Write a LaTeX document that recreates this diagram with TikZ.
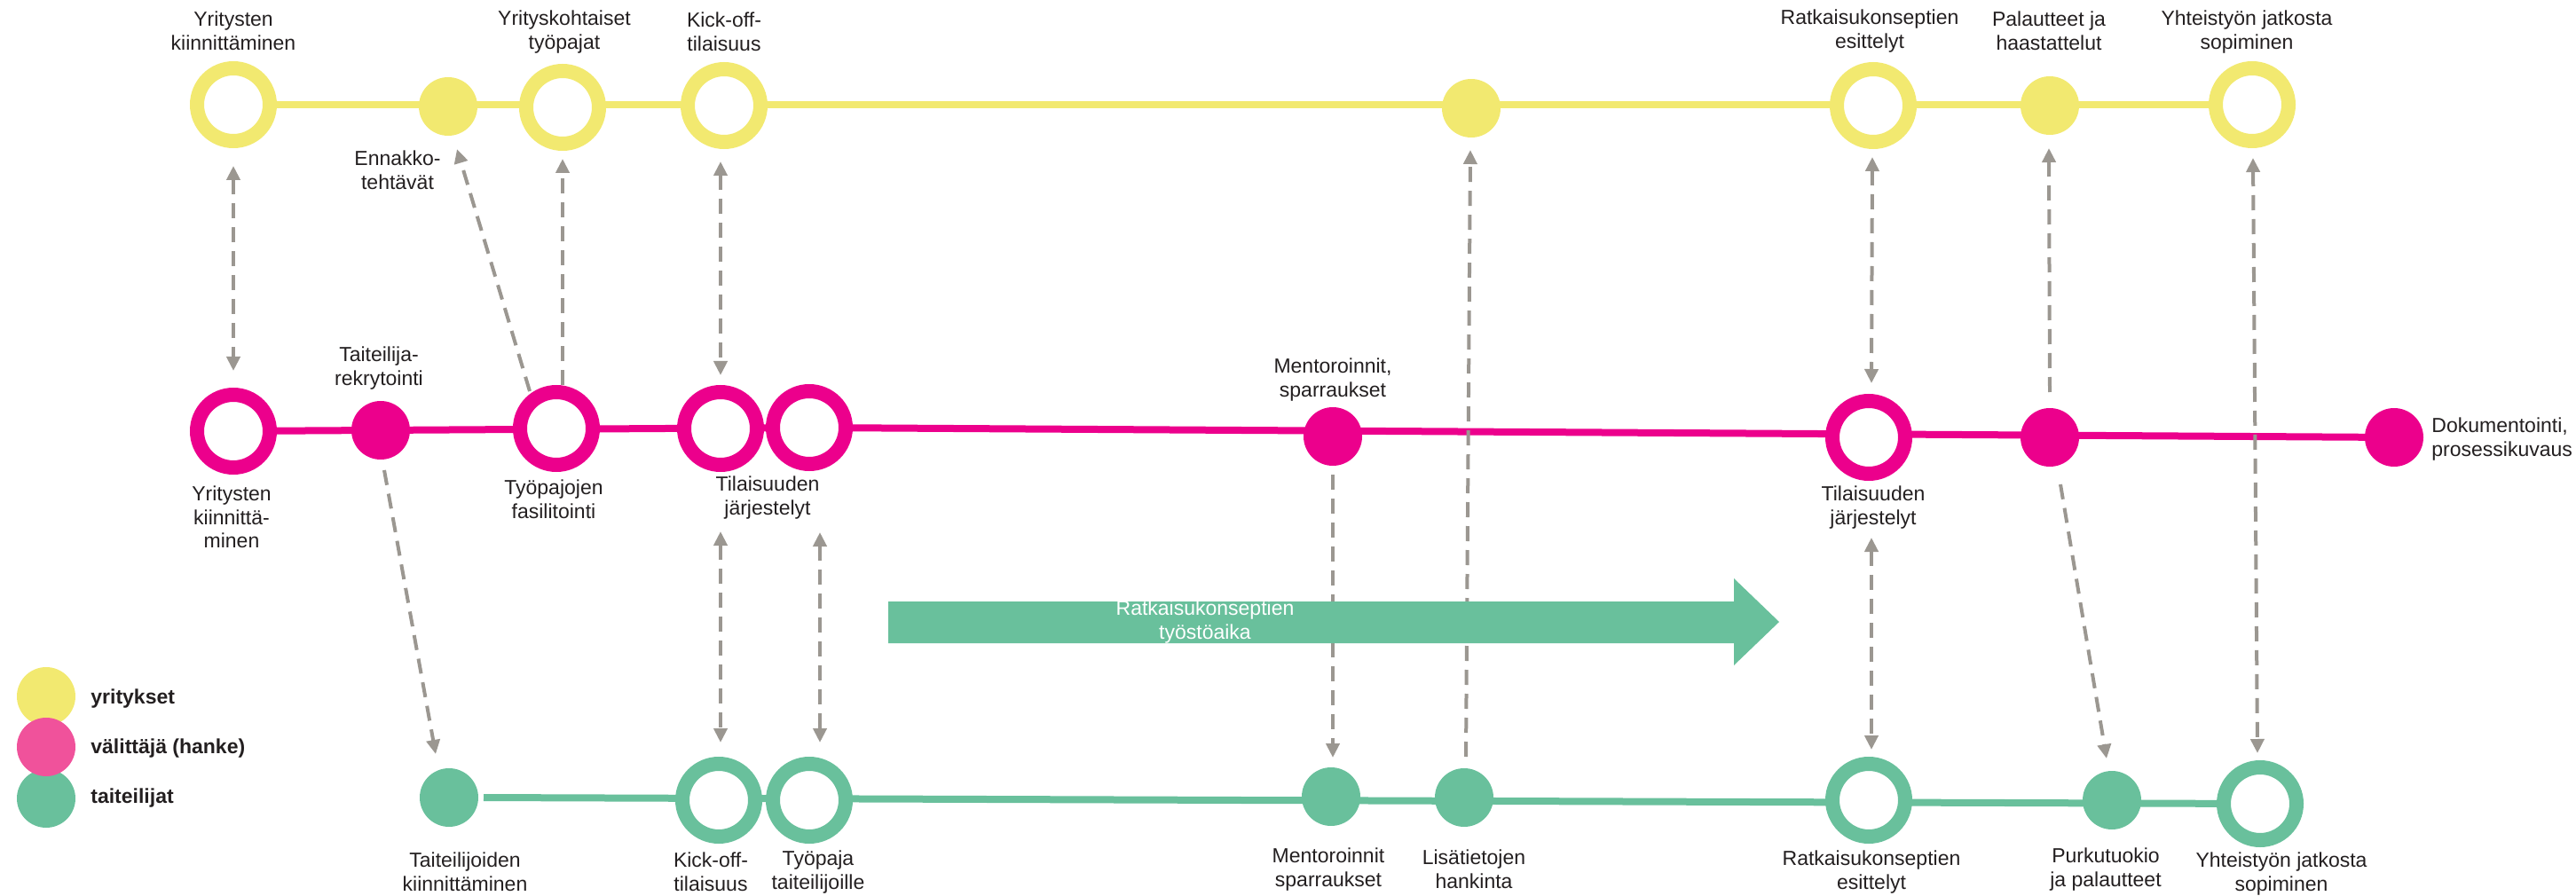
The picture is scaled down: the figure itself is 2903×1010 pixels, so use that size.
\documentclass[tikz,border=0pt]{standalone}
\usepackage{fontspec}
\setmainfont{Liberation Sans}
\usetikzlibrary{arrows.meta,backgrounds}
\definecolor{cyel}{RGB}{242,233,112}
\definecolor{cmag}{RGB}{236,0,140}
\definecolor{cgrn}{RGB}{105,192,156}
\definecolor{cpink}{RGB}{240,82,155}
\definecolor{cgray}{RGB}{155,151,145}
\definecolor{ctext}{RGB}{35,31,32}
\begin{document}
\begin{tikzpicture}[x=0.5pt,y=-0.5pt,
  ring/.style={circle,draw=#1,line width=8pt,fill=white,minimum size=41pt,inner sep=0pt},
  dot/.style={circle,fill=#1,minimum size=33pt,inner sep=0pt,outer sep=0pt},
  lbl/.style={align=center,font=\fontsize{11.5}{13.25}\selectfont,text=ctext,inner sep=0pt},
  leg/.style={anchor=west,font=\fontsize{11.5}{13.25}\selectfont\bfseries,text=ctext,inner sep=0pt},
  track/.style={line width=4pt,draw=#1},
  tip/.tip={Triangle[width=7.5pt,length=8pt]},
  dashline/.style={draw=cgray,line width=2pt,dash pattern=on 8.5pt off 5pt},
  darr/.style={dashline,tip-tip},
  sarr/.style={dashline,-tip}]
\useasboundingbox (0,0) rectangle (2903,1010);

% yellow row
\node[ring=cyel] (y1) at (263,118) {};
\node[dot=cyel]  (y2) at (505,120) {};
\node[ring=cyel] (y3) at (634,121) {};
\node[ring=cyel] (y4) at (816,119) {};
\node[dot=cyel]  (y5) at (1658,122) {};
\node[ring=cyel] (y6) at (2111,119) {};
\node[dot=cyel]  (y7) at (2310,119) {};
\node[ring=cyel] (y8) at (2538,118) {};

% magenta row
\node[ring=cmag] (m1) at (263,486) {};
\node[dot=cmag]  (m2) at (429,485) {};
\node[ring=cmag] (m3) at (627,483) {};
\node[ring=cmag] (m4) at (812,483) {};
\node[ring=cmag] (m5) at (912,482) {};
\node[dot=cmag]  (m6) at (1502,492) {};
\node[ring=cmag] (m7) at (2106,493) {};
\node[dot=cmag]  (m8) at (2310,493) {};
\node[dot=cmag]  (m9) at (2698,493) {};

% green row
\node[dot=cgrn]  (g1) at (506,899) {};
\node[ring=cgrn] (g2) at (810,902) {};
\node[ring=cgrn] (g3) at (912,902) {};
\node[dot=cgrn]  (g4) at (1500,898) {};
\node[dot=cgrn]  (g5) at (1650,899) {};
\node[ring=cgrn] (g6) at (2106,902) {};
\node[dot=cgrn]  (g7) at (2380,902) {};
\node[ring=cgrn] (g8) at (2547,906) {};

\begin{scope}[on background layer]
\draw[track=cyel] (y1.center) -- (y8.center);
\draw[track=cmag] (m1.center) -- (m5.center) -- (m9.center);
\draw[track=cgrn,shorten <=3pt] (g1.east) -- (g8.center);
\end{scope}

% labels yellow
\node[lbl] (ly1) at (263,35) {Yritysten\\kiinnittäminen};
\node[lbl] (ly2) at (448,192) {Ennakko-\\tehtävät};
\node[lbl] (ly3) at (636,36) {Yrityskohtaiset\\työpajat};
\node[lbl] (ly4) at (816,36) {Kick-off-\\tilaisuus};
\node[lbl] (ly6) at (2107,35) {Ratkaisukonseptien\\esittelyt};
\node[lbl] (ly7) at (2309,35) {Palautteet ja\\haastattelut};
\node[lbl] (ly8) at (2532,36) {Yhteistyön jatkosta\\sopiminen};
% labels magenta
\node[lbl] (lm1) at (261,583) {Yritysten\\kiinnittä-\\minen};
\node[lbl] (lm2) at (427,415) {Taiteilija-\\rekrytointi};
\node[lbl] (lm3) at (624,563) {Työpajojen\\fasilitointi};
\node[lbl] (lm4) at (865,561) {Tilaisuuden\\järjestelyt};
\node[lbl] (lm6) at (1502,428) {Mentoroinnit,\\sparraukset};
\node[lbl] (lm7) at (2111,572) {Tilaisuuden\\järjestelyt};
\node[lbl,anchor=west,align=left] (lm9) at (2740,495) {Dokumentointi,\\prosessikuvaus};
% labels green
\node[lbl] (lg1) at (524,983) {Taiteilijoiden\\kiinnittäminen};
\node[lbl] (lg2) at (801,983) {Kick-off-\\tilaisuus};
\node[lbl] (lg3) at (922,983) {Työpaja\\taiteilijoille};
\node[lbl] (lg4) at (1497,980) {Mentoroinnit\\sparraukset};
\node[lbl] (lg5) at (1661,980) {Lisätietojen\\hankinta};
\node[lbl] (lg6) at (2109,983) {Ratkaisukonseptien\\esittelyt};
\node[lbl] (lg7) at (2373,980) {Purkutuokio\\ja palautteet};
\node[lbl] (lg8) at (2571,985) {Yhteistyön jatkosta\\sopiminen};

% dashed connectors
\draw[darr] ([shift={(0,69)}]y1.center) -- ([shift={(0,-68)}]m1.center);
\draw[sarr] ([shift={(-30,-42)}]m3.center) -- ([shift={(10,48)}]y2.center);
\draw[sarr] ([shift={(7,-49)}]m3.center) -- ([shift={(0,58)}]y3.center);
\draw[darr] ([shift={(-4,63)}]y4.center) -- ([shift={(0,-60)}]m4.center);
\draw[sarr] ([shift={(2,-46)}]g5.center) -- ([shift={(-1,47)}]y5.center);
\draw[sarr] ([shift={(0,43)}]m6.center) -- ([shift={(2,-44)}]g4.center);
\draw[sarr] ([shift={(4,45)}]m2.center) -- ([shift={(-15,-49)}]g1.center);
\draw[darr] ([shift={(0,116)}]m4.center) -- ([shift={(2,-65)}]g2.center);
\draw[darr] ([shift={(12,118)}]m5.center) -- ([shift={(12,-65)}]g3.center);
\draw[darr] ([shift={(-1,58)}]y6.center) -- ([shift={(3,-61)}]m7.center);
\draw[darr] ([shift={(3,113)}]m7.center) -- ([shift={(3,-57)}]g6.center);
\draw[sarr] ([shift={(0,-51)}]m8.center) -- ([shift={(-1,48)}]y7.center);
\draw[sarr] ([shift={(12,53)}]m8.center) -- ([shift={(-6,-47)}]g7.center);
\draw[darr] ([shift={(1,60)}]y8.center) -- ([shift={(-3,-57)}]g8.center);

% big green arrow
\fill[cgrn] (1001,678) -- (1954,678) -- (1954,652) -- (2005,701) -- (1954,750) -- (1954,725) -- (1001,725) -- cycle;
\node[lbl,text=white] (ta) at (1358,701) {Ratkaisukonseptien\\työstöaika};

% legend
\node[dot=cyel]  (ky) at (52,785) {};
\node[dot=cgrn]  (kg) at (52,900) {};
\node[dot=cpink] (km) at (52,842) {};
\node[leg] (tky) at (102,788) {yritykset};
\node[leg] (tkm) at (102,844) {välittäjä (hanke)};
\node[leg] (tkg) at (102,900) {taiteilijat};
\end{tikzpicture}
\end{document}
